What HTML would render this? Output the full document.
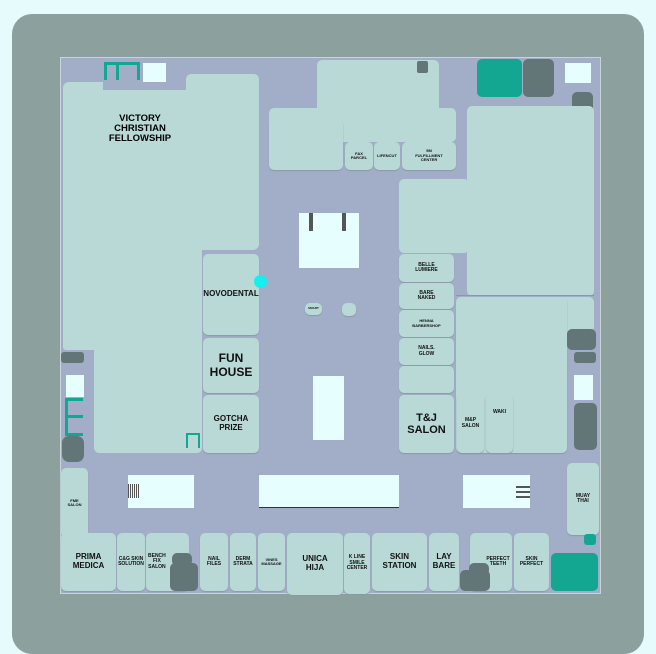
<!DOCTYPE html>
<html><head><meta charset="utf-8"><style>
*{margin:0;padding:0;box-sizing:border-box}
body{width:656px;height:638px;background:#e6fcfc;position:relative;overflow:hidden;font-family:"Liberation Sans",sans-serif}
div{position:absolute}
.s{background:#b8d9d6;border-radius:5px;display:flex;align-items:center;justify-content:center;text-align:center;font-weight:bold;color:#111;line-height:1.1;box-shadow:0 1px 1px #8a9aa4}
.n{box-shadow:none}
.d{background:#627678;border-radius:5px}
.t{background:#13a792;border-radius:5px}
.w{background:#e6fefe}
</style></head><body>
<div style="left:12px;top:14px;width:632px;height:640px;background:#8ca19d;border-radius:20px"></div>
<div style="left:60px;top:57px;width:541px;height:537px;background:#a2adc7;border:1px solid #c8d4d8"></div>

<!-- Victory -->
<div class="s n" style="left:63px;top:82px;width:196px;height:168px;border-radius:6px"></div>
<div class="s n" style="left:186px;top:74px;width:73px;height:30px"></div>
<div style="left:103px;top:82px;width:83px;height:8px;background:#a2adc7"></div>
<div class="s n" style="left:63px;top:200px;width:139px;height:150px;border-radius:0 0 0 3px"></div>
<div class="s n" style="left:94px;top:240px;width:108px;height:213px"></div>
<div style="left:102px;top:114px;width:76px;font-size:9.5px;font-weight:bold;text-align:center;line-height:1.05">VICTORY CHRISTIAN FELLOWSHIP</div>

<div class="s" style="left:203px;top:254px;width:56px;height:81px;font-size:8px">NOVODENTAL</div>
<div class="s" style="left:203px;top:338px;width:56px;height:55px;font-size:12px">FUN<br>HOUSE</div>
<div class="s" style="left:203px;top:395px;width:56px;height:58px;font-size:8px">GOTCHA<br>PRIZE</div>
<div style="left:254px;top:275px;width:13px;height:13px;border-radius:50%;background:#12f0f0"></div>

<!-- top center -->
<div class="s n" style="left:317px;top:60px;width:122px;height:60px"></div>
<div class="s n" style="left:269px;top:108px;width:187px;height:34px"></div>
<div class="s" style="left:269px;top:120px;width:74px;height:50px"></div>
<div class="s" style="left:345px;top:142px;width:28px;height:28px;font-size:4px">FAX<br>PARCEL</div>
<div class="s" style="left:374px;top:142px;width:26px;height:28px;font-size:4px">LIFENCUT</div>
<div class="s" style="left:402px;top:142px;width:54px;height:28px;font-size:4px">9M<br>FULFILLMENT<br>CENTER</div>
<div class="d" style="left:417px;top:61px;width:11px;height:12px;border-radius:2px"></div>
<div class="t" style="left:477px;top:59px;width:45px;height:38px"></div>
<div class="d" style="left:523px;top:59px;width:31px;height:38px"></div>
<div class="w" style="left:565px;top:63px;width:26px;height:20px"></div>
<div class="d" style="left:572px;top:92px;width:21px;height:68px"></div>

<!-- right big -->
<div class="s n" style="left:467px;top:106px;width:127px;height:190px"></div>
<div class="s n" style="left:399px;top:179px;width:70px;height:74px"></div>
<div class="s n" style="left:456px;top:297px;width:138px;height:35px"></div>
<div class="s" style="left:456px;top:297px;width:111px;height:156px"></div>
<div style="left:456px;top:295px;width:138px;height:1px;background:#8a9aa4"></div>
<div class="s" style="left:399px;top:254px;width:55px;height:28px;font-size:5px">BELLE<br>LUMIERE</div>
<div class="s" style="left:399px;top:283px;width:55px;height:26px;font-size:5px">BARE<br>NAKED</div>
<div class="s" style="left:399px;top:310px;width:55px;height:27px;font-size:4px">HENNA<br>BARBERSHOP</div>
<div class="s" style="left:399px;top:338px;width:55px;height:27px;font-size:5px">NAILS.<br>GLOW</div>
<div class="s" style="left:399px;top:366px;width:55px;height:27px"></div>
<div class="s" style="left:399px;top:395px;width:55px;height:58px;font-size:11px">T&amp;J<br>SALON</div>
<div class="s" style="left:457px;top:394px;width:27px;height:59px;font-size:5px">M&amp;P<br>SALON</div>
<div class="s" style="left:486px;top:394px;width:27px;height:59px;font-size:5px;align-items:flex-start;padding-top:16px">WAKI</div>
<div class="d" style="left:567px;top:329px;width:29px;height:21px"></div>
<div class="d" style="left:574px;top:352px;width:22px;height:11px;border-radius:3px"></div>
<div class="w" style="left:574px;top:375px;width:19px;height:25px"></div>
<div class="d" style="left:574px;top:403px;width:23px;height:47px"></div>
<div class="s" style="left:567px;top:463px;width:32px;height:72px;font-size:5px">MUAY<br>THAI</div>
<div class="t" style="left:584px;top:534px;width:12px;height:11px;border-radius:3px"></div>

<!-- center -->
<div class="w" style="left:299px;top:213px;width:60px;height:55px"></div>
<div style="left:309px;top:213px;width:4px;height:18px;background:#555"></div>
<div style="left:342px;top:213px;width:4px;height:18px;background:#555"></div>
<div class="s" style="left:305px;top:303px;width:17px;height:12px;font-size:3px">SMART</div>
<div class="s" style="left:342px;top:303px;width:14px;height:13px"></div>
<div class="w" style="left:313px;top:376px;width:31px;height:64px"></div>
<div class="w" style="left:128px;top:475px;width:66px;height:33px"></div>
<div style="left:128px;top:484px;width:12px;height:14px;background:repeating-linear-gradient(90deg,#555 0 1px,#e6fefe 1px 2px)"></div>
<div class="w" style="left:259px;top:475px;width:140px;height:33px;border-bottom:1px solid #333"></div>
<div class="w" style="left:463px;top:475px;width:67px;height:33px"></div>
<div style="left:516px;top:484px;width:14px;height:14px;background:repeating-linear-gradient(0deg,#555 0 2px,#e6fefe 2px 5px)"></div>

<!-- left side -->
<div class="w" style="left:143px;top:63px;width:23px;height:19px"></div>
<div style="left:104px;top:62px;width:36px;height:18px;border:3px solid #13a792;border-bottom:none"></div>
<div style="left:116px;top:62px;width:3px;height:18px;background:#13a792"></div>
<div class="d" style="left:61px;top:352px;width:23px;height:11px;border-radius:3px"></div>
<div class="w" style="left:66px;top:375px;width:18px;height:22px"></div>
<div style="left:65px;top:398px;width:18px;height:38px;border:3px solid #13a792;border-right:none"></div>
<div style="left:65px;top:415px;width:18px;height:3px;background:#13a792"></div>
<div class="d" style="left:62px;top:436px;width:22px;height:26px;border-radius:7px"></div>
<div style="left:186px;top:433px;width:14px;height:15px;border:2px solid #13a792;border-bottom:none"></div>
<div class="s" style="left:61px;top:468px;width:27px;height:70px;font-size:4px">FME<br>SALON</div>

<!-- bottom row -->
<div class="s" style="left:61px;top:533px;width:55px;height:58px;font-size:8px">PRIMA<br>MEDICA</div>
<div class="s" style="left:117px;top:533px;width:28px;height:58px;font-size:5px">C&amp;G SKIN<br>SOLUTION</div>
<div class="s" style="left:146px;top:533px;width:43px;height:58px;font-size:5px;justify-content:flex-start;padding-left:2px">BENCH<br>FIX<br>SALON</div>
<div class="d" style="left:172px;top:553px;width:20px;height:13px"></div>
<div class="d" style="left:170px;top:563px;width:28px;height:28px"></div>
<div class="s" style="left:200px;top:533px;width:28px;height:58px;font-size:5px">NAIL<br>FILES</div>
<div class="s" style="left:230px;top:533px;width:26px;height:58px;font-size:5px">DERM<br>STRATA</div>
<div class="s" style="left:258px;top:533px;width:27px;height:58px;font-size:4px">VINES<br>MASSAGE</div>
<div class="s" style="left:287px;top:533px;width:56px;height:62px;font-size:8px">UNICA<br>HIJA</div>
<div class="s" style="left:344px;top:533px;width:26px;height:61px;font-size:5px">K LINE<br>SMILE<br>CENTER</div>
<div class="s" style="left:372px;top:533px;width:55px;height:58px;font-size:8px">SKIN<br>STATION</div>
<div class="s" style="left:429px;top:533px;width:30px;height:58px;font-size:8px">LAY<br>BARE</div>
<div class="s" style="left:470px;top:533px;width:42px;height:58px;font-size:5px;padding-left:14px">PERFECT<br>TEETH</div>
<div class="d" style="left:469px;top:563px;width:20px;height:12px"></div>
<div class="d" style="left:460px;top:570px;width:30px;height:21px"></div>
<div class="s" style="left:514px;top:533px;width:35px;height:58px;font-size:5px">SKIN<br>PERFECT</div>
<div class="t" style="left:551px;top:553px;width:47px;height:38px"></div>
</body></html>
